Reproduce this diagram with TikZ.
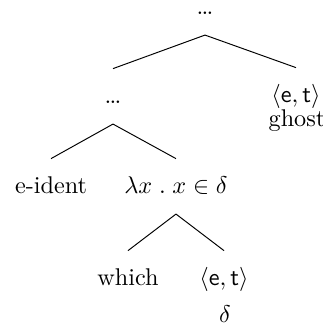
\documentclass[tikz,border=0pt]{standalone}
\usepackage{tikz}
\usetikzlibrary{positioning}
\newcommand{\tdots}{.\kern-.75pt.\kern-.75pt.}
\newcommand{\typet}{\ensuremath{\langle\mathsf{e},\mathsf{t}\rangle}}
\tikzset{
  tnode/.style={anchor=base,inner xsep=1pt,inner ysep=0pt,text height=14pt,text depth=8.5pt},
  topnode/.style={anchor=base,inner xsep=1pt,inner ysep=0pt,text depth=8.5pt},
  plain/.style={anchor=base,inner sep=1pt},
  edge/.style={thin,draw=black},
}

\begin{document}
\begin{tikzpicture}[x=0.413pt,y=-0.413pt]
    \useasboundingbox (0,0) rectangle (323,328);
    \node[topnode] (root) at (205,14) {\tdots};
    \node[tnode] (dotsl) at (113,103) {\tdots};
    \node[tnode] (et1) at (296,102) {\typet};
    \node[plain] (ghost) at (297,126) {ghost};
    \node[tnode] (eident) at (51,193) {e-ident};
    \node[tnode] (lam) at (176,193) {$\lambda x\;.\;x\in\delta$};
    \node[tnode] (which) at (128,285) {which};
    \node[tnode] (et2) at (224,285) {\typet};
    \node[plain] (delta) at (225,322) {$\delta$};
    \draw[edge] (root.south)--(dotsl.north); \draw[edge] (root.south)--(et1.north);
    \draw[edge] (dotsl.south)--(eident.north); \draw[edge] (dotsl.south)--(lam.north);
    \draw[edge] (lam.south)--(which.north); \draw[edge] (lam.south)--(et2.north);
  \end{tikzpicture}
\end{document}
